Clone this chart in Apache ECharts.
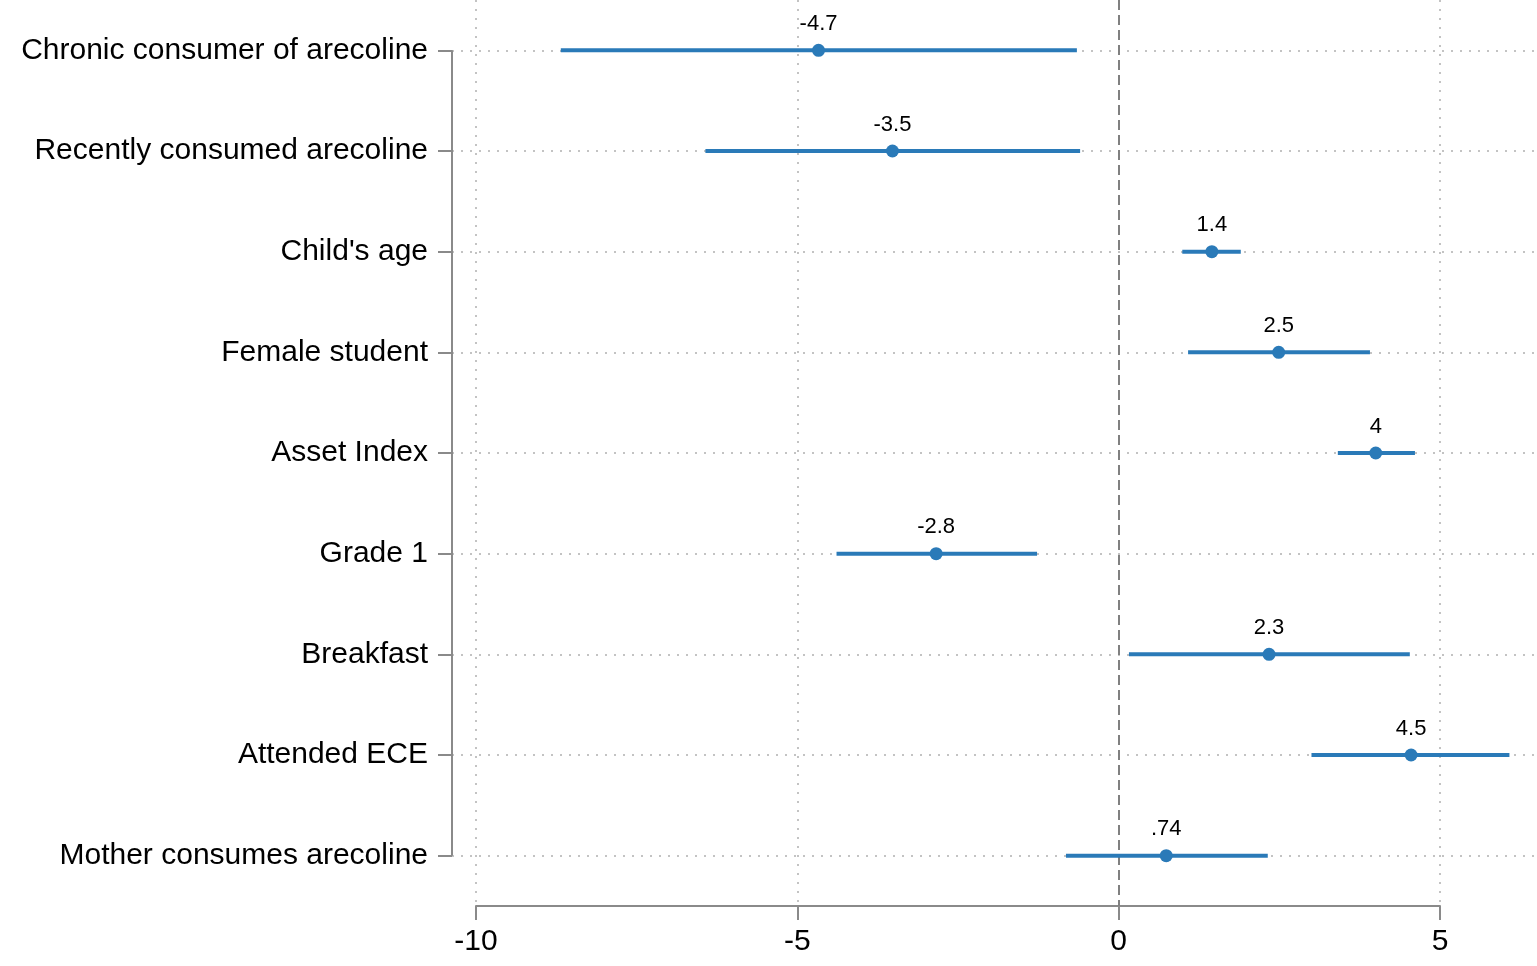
<!DOCTYPE html>
<html>
<head>
<meta charset="utf-8">
<script src="https://cdn.jsdelivr.net/npm/echarts@6/dist/echarts.min.js"></script>
<style>
  html, body { margin: 0; padding: 0; background: #fff; }
  #chart { width: 1537px; height: 966px; }
</style>
</head>
<body>
<div id="chart"></div>
<script>
// coefficient plot: point estimates with confidence intervals
var categories = [
  'Chronic consumer of arecoline',
  'Recently consumed arecoline',
  "Child's age",
  'Female student',
  'Asset Index',
  'Grade 1',
  'Breakfast',
  'Attended ECE',
  'Mother consumes arecoline'
];
var estimates = [-4.67, -3.52, 1.45, 2.49, 4.0, -2.84, 2.34, 4.55, 0.74];
var ciLow     = [-8.68, -6.43, 0.99, 1.08, 3.41, -4.39, 0.16, 3.0, -0.82];
var ciHigh    = [-0.65, -0.60, 1.90, 3.91, 4.61, -1.27, 4.53, 6.08, 2.32];
var pointLabels = ['-4.7', '-3.5', '1.4', '2.5', '4', '-2.8', '2.3', '4.5', '.74'];
var xTicks = [-10, -5, 0, 5];

var blue = '#2a7ab8';
var gray = '#8a8a8a';
var font = "'Liberation Sans', Arial, Helvetica, sans-serif";
var xMin = -10.373, xMax = 6.509;

var chart = echarts.init(document.getElementById('chart'));

var ciData = categories.map(function (c, i) { return [ciLow[i], ciHigh[i], i]; });
var pointData = categories.map(function (c, i) { return [estimates[i], i]; });

chart.setOption({
  animation: false,
  backgroundColor: '#fff',
  grid: [
    { left: 452, right: 0, top: 0, bottom: 60 },
    { left: 476, right: 97, top: 0, bottom: 60 }
  ],
  xAxis: [{
    gridIndex: 0,
    type: 'value',
    min: xMin,
    max: xMax,
    show: false
  }, {
    gridIndex: 1,
    type: 'value',
    min: -10,
    max: 5,
    interval: 5,
    axisLine: { show: true, lineStyle: { color: gray, width: 2 } },
    axisTick: { show: true, length: 14, lineStyle: { color: gray, width: 2 } },
    axisLabel: { color: '#000', fontSize: 30, fontFamily: font, margin: 21 },
    splitLine: { show: false }
  }],
  yAxis: [{
    gridIndex: 0,
    type: 'category',
    position: 'left',
    data: categories,
    inverse: true,
    boundaryGap: true,
    axisLine: { show: false, onZero: false },
    axisTick: { show: true, alignWithLabel: true, length: 14, lineStyle: { color: gray, width: 2 } },
    axisLabel: { color: '#000', fontSize: 30, fontFamily: font, margin: 24, padding: [10, 0, 0, 0] },
    splitLine: { show: false }
  }, {
    gridIndex: 1,
    type: 'value',
    show: false
  }],
  series: [{
    // grid lines, zero line and left spine
    type: 'line',
    data: [],
    xAxisIndex: 0,
    yAxisIndex: 0,
    z: 1,
    markLine: {
      silent: true,
      z: 1,
      symbol: 'none',
      label: { show: false },
      data: [].concat(
        categories.map(function (c) {
          return { yAxis: c, lineStyle: { color: '#b0b0b0', type: [2, 7], width: 1.5 } };
        }),
        xTicks.filter(function (t) { return t !== 0; }).map(function (t) {
          return { xAxis: t, lineStyle: { color: '#b0b0b0', type: [2, 7], width: 1.5 } };
        }),
        [{ xAxis: 0, lineStyle: { color: '#808080', type: [10, 5], width: 2 } }],
        [[
          { coord: [xMin, 0], lineStyle: { color: gray, type: 'solid', width: 2 } },
          { coord: [xMin, categories.length - 1] }
        ]]
      )
    }
  }, {
    type: 'custom',
    xAxisIndex: 0,
    yAxisIndex: 0,
    z: 3,
    data: ciData,
    encode: { x: [0, 1], y: 2 },
    renderItem: function (params, api) {
      var a = api.coord([api.value(0), api.value(2)]);
      var b = api.coord([api.value(1), api.value(2)]);
      return {
        type: 'line',
        shape: { x1: a[0], y1: a[1], x2: b[0], y2: b[1] },
        style: { stroke: blue, lineWidth: 4 }
      };
    }
  }, {
    type: 'scatter',
    xAxisIndex: 0,
    yAxisIndex: 0,
    z: 4,
    symbol: 'circle',
    symbolSize: 13,
    itemStyle: { color: blue, opacity: 1 },
    data: pointData,
    label: {
      show: true,
      position: 'top',
      distance: 9,
      color: '#000',
      fontSize: 22,
      fontFamily: font,
      formatter: function (p) { return pointLabels[p.dataIndex]; }
    }
  }]
});
</script>
</body>
</html>
